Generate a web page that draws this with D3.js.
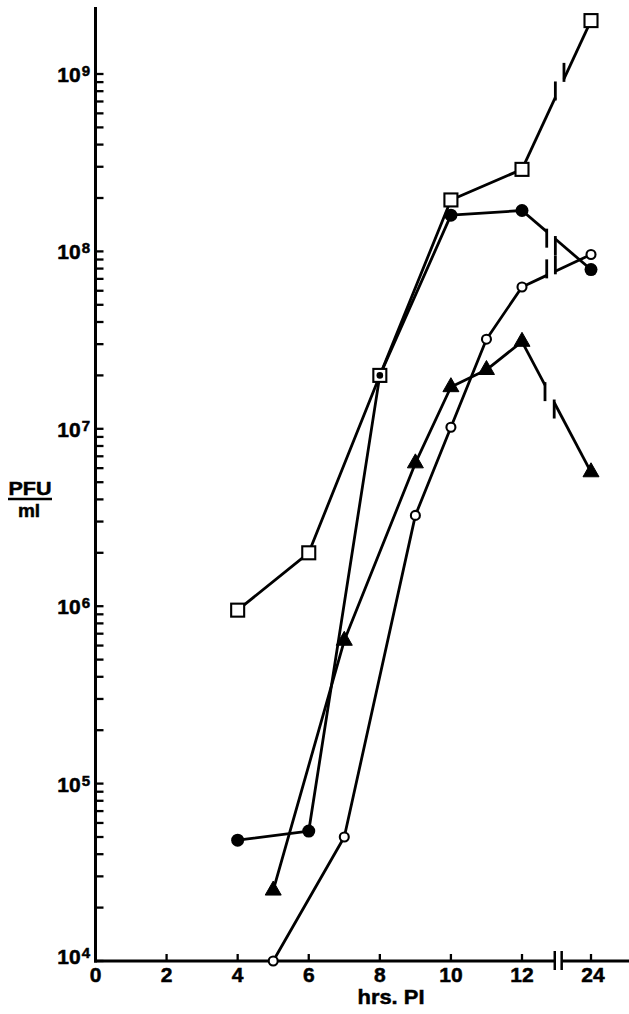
<!DOCTYPE html>
<html>
<head>
<meta charset="utf-8">
<script src="https://cdn.jsdelivr.net/npm/d3@7"></script>
<style>
html,body{margin:0;padding:0;background:#fff;}
svg{display:block;}
text{font-family:"Liberation Sans",Arial,Helvetica,sans-serif;font-weight:bold;fill:#000;stroke:#000;stroke-width:0.5px;}
</style>
</head>
<body>
<svg id="chart" width="629" height="1014"></svg>
<script>
// ---- data ----
const xTickValues = [2, 4, 6, 8, 10, 12, 24];
const xTickLabels = ["2", "4", "6", "8", "10", "12", "24"];
const yDecades = [4, 5, 6, 7, 8, 9];

const squareHours  = [4, 6, 8, 10, 12, 24];
const squareValues = [9.5e5, 2.0e6, 2.0e7, 1.95e8, 2.9e8, 2.0e9];

const filledHours  = [4, 6, 8, 10, 12, 24];
const filledValues = [4.8e4, 5.4e4, 2.0e7, 1.6e8, 1.7e8, 7.9e7];

const openHours    = [5, 7, 9, 10, 11, 12, 24];
const openValues   = [1.0e4, 5.0e4, 3.25e6, 1.02e7, 3.2e7, 6.3e7, 9.6e7];

const triHours     = [5, 7, 9, 10, 11, 12, 24];
const triValues    = [2.5e4, 6.4e5, 6.4e6, 1.72e7, 2.15e7, 3.1e7, 5.7e6];

// ---- layout ----
const svg = d3.select("#chart");
const x = d3.scaleLinear().domain([0, 12, 24]).range([95.5, 522, 591]);
const y = d3.scaleLog().domain([1e4, 1e9]).range([961, 74]);
const axisTop = 7;
const axisBreak = [17.7, 18.9]; // in hours between 12 and 24

const series = [
  {name: "filled", hours: filledHours, values: filledValues, gap: [16.3, 17.8]},
  {name: "open",   hours: openHours,   values: openValues,   gap: [16.3, 17.8]},
  {name: "tri",    hours: triHours,    values: triValues,    gap: [16.0, 17.6]},
  {name: "square", hours: squareHours, values: squareValues, gap: [17.8, 19.3]}
];

const lw = 2.8;
const gLines = svg.append("g").attr("fill", "none").attr("stroke", "#000")
  .attr("stroke-width", lw).attr("stroke-linejoin", "round");

series.forEach(s => {
  const pts = s.hours.map((h, i) => [x(h), y(s.values[i]), h]);
  const early = pts.filter(p => p[2] <= 12);
  gLines.append("path").attr("d", d3.line()(early.map(p => [p[0], p[1]])));
  const a = pts.find(p => p[2] === 12), b = pts.find(p => p[2] === 24);
  if (a && b) {
    const yAt = px => a[1] + (b[1] - a[1]) * (px - a[0]) / (b[0] - a[0]);
    const g0 = x(s.gap[0]), g1 = x(s.gap[1]);
    gLines.append("line").attr("x1", a[0]).attr("y1", a[1]).attr("x2", g0).attr("y2", yAt(g0));
    gLines.append("line").attr("x1", g1).attr("y1", yAt(g1)).attr("x2", b[0]).attr("y2", b[1]);
    const dir = Math.sign(b[1] - a[1]);
    [g0, g1].forEach(gx => {
      const yy = yAt(gx);
      gLines.append("line").attr("x1", gx).attr("x2", gx)
        .attr("y1", yy - 3 * dir).attr("y2", yy + 16 * dir)
        .attr("stroke-linecap", "butt");
    });
  }
});

// ---- axes ----
const gAx = svg.append("g").attr("stroke", "#000").attr("fill", "none");
gAx.append("line").attr("x1", x(0)).attr("x2", x(0)).attr("y1", axisTop).attr("y2", y(1e4) + 1.5)
  .attr("stroke-width", 3);
const yTicks = [];
yDecades.forEach(d => {
  if (d < 9) { for (let m = 1; m <= 9; m++) yTicks.push(m * Math.pow(10, d)); }
  else yTicks.push(Math.pow(10, d));
});
yTicks.forEach(v => {
  gAx.append("line").attr("x1", x(0)).attr("x2", x(0) + 8)
    .attr("y1", y(v)).attr("y2", y(v)).attr("stroke-width", 2.3);
});
gAx.append("line").attr("x1", x(0) - 1.5).attr("x2", x(axisBreak[0])).attr("y1", y(1e4)).attr("y2", y(1e4))
  .attr("stroke-width", 3);
gAx.append("line").attr("x1", x(axisBreak[1])).attr("x2", 629).attr("y1", y(1e4)).attr("y2", y(1e4))
  .attr("stroke-width", 3);
axisBreak.forEach(h => {
  gAx.append("line").attr("x1", x(h)).attr("x2", x(h)).attr("y1", y(1e4) - 10).attr("y2", y(1e4) + 9)
    .attr("stroke-width", 2.5);
});
xTickValues.forEach(v => {
  gAx.append("line").attr("x1", x(v)).attr("x2", x(v)).attr("y1", y(1e4)).attr("y2", y(1e4) - 7)
    .attr("stroke-width", 2.3);
});

// y labels
yDecades.forEach(d => {
  const t = svg.append("text").attr("x", 90).attr("y", y(Math.pow(10, d)) + 8 - (d === 4 ? 5 : 0))
    .attr("text-anchor", "end").attr("font-size", 21);
  t.append("tspan").text("10");
  t.append("tspan").attr("font-size", 15).attr("dy", -6).attr("dx", 1).text(String(d));
});
// x labels
svg.append("text").attr("x", x(0)).attr("y", 982).attr("text-anchor", "middle").attr("font-size", 21).text("0");
xTickValues.forEach((v, i) => {
  svg.append("text").attr("x", x(v) + (v === 24 ? 2 : 0)).attr("y", 982).attr("text-anchor", "middle")
    .attr("font-size", 21).text(xTickLabels[i]);
});
svg.append("text").attr("x", 391).attr("y", 1004).attr("text-anchor", "middle").attr("font-size", 21)
  .attr("textLength", 67).attr("lengthAdjust", "spacingAndGlyphs").text("hrs. PI");
// y axis title
svg.append("text").attr("x", 30).attr("y", 495).attr("text-anchor", "middle").attr("font-size", 19)
  .attr("textLength", 43).attr("lengthAdjust", "spacingAndGlyphs").text("PFU");
svg.append("line").attr("x1", 8).attr("x2", 52).attr("y1", 499).attr("y2", 499).attr("stroke", "#000").attr("stroke-width", 2.3);
svg.append("text").attr("x", 29).attr("y", 517).attr("text-anchor", "middle").attr("font-size", 19).text("ml");

// ---- markers ----
const gM = svg.append("g").attr("stroke", "#000");
triHours.forEach((h, i) => {
  const cx = x(h), cy = y(triValues[i]);
  const w = 16, ht = 14;
  gM.append("path").attr("d", `M${cx},${cy - ht * 2 / 3}L${cx + w / 2},${cy + ht / 3}L${cx - w / 2},${cy + ht / 3}Z`)
    .attr("fill", "#000").attr("stroke-width", 1);
});
openHours.forEach((h, i) => {
  gM.append("circle").attr("cx", x(h)).attr("cy", y(openValues[i])).attr("r", 4.5)
    .attr("fill", "#fff").attr("stroke-width", 2.1);
});
squareHours.forEach((h, i) => {
  gM.append("rect").attr("x", x(h) - 6.5).attr("y", y(squareValues[i]) - 6.5).attr("width", 13).attr("height", 13)
    .attr("fill", "#fff").attr("stroke-width", 2.1);
});
filledHours.forEach((h, i) => {
  const inSquare = squareHours.some((sh, j) => sh === h && squareValues[j] === filledValues[i]);
  gM.append("circle").attr("cx", x(h)).attr("cy", y(filledValues[i])).attr("r", inSquare ? 3.3 : 6.5)
    .attr("fill", "#000").attr("stroke", "none");
});
</script>
</body>
</html>
